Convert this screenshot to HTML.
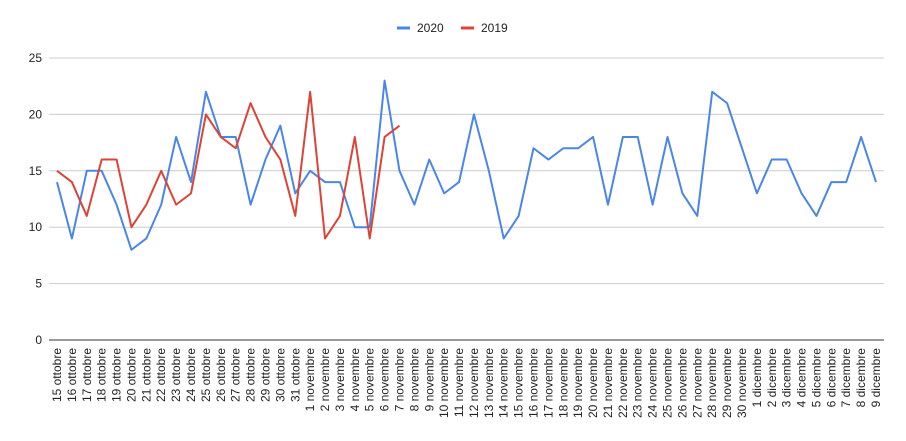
<!DOCTYPE html>
<html><head><meta charset="utf-8"><style>
html,body{margin:0;padding:0;background:#fff;}
svg{display:block;font-family:"Liberation Sans",Arial,sans-serif;}
</style></head><body>
<svg id="c" width="906" height="441" xmlns="http://www.w3.org/2000/svg"></svg>
<script>
const s=document.getElementById('c');
const a=[14,9,15,15,12,8,9,12,18,14,22,18,18,12,16,19,13,15,14,14,10,10,23,15,12,16,13,14,20,15,9,11,17,16,17,17,18,12,18,18,12,18,13,11,22,21,17,13,16,16,13,11,14,14,18,14];
const b=[15,14,11,16,16,10,12,15,12,13,20,18,17,21,18,16,11,22,9,11,18,9,18,19];
const labels=[];
for(let d=15;d<=31;d++)labels.push(d+' ottobre');
for(let d=1;d<=30;d++)labels.push(d+' novembre');
for(let d=1;d<=9;d++)labels.push(d+' dicembre');
const X=i=>57+i*(876-57)/55, Y=v=>340-v*282/25;
let h='';
for(let k=1;k<=5;k++){const y=Y(k*5);h+=`<line x1="49" x2="884" y1="${y}" y2="${y}" stroke="#ccc" stroke-width="1"/>`;}
for(let k=0;k<=5;k++){h+=`<text x="42" y="${Y(k*5)+4}" font-size="12" text-anchor="end" fill="#222">${k*5}</text>`;}
h+=`<line x1="49" x2="884" y1="340" y2="340" stroke="#333" stroke-width="1"/>`;
labels.forEach((l,i)=>{const x=X(i)+4;h+=`<text transform="translate(${x},348) rotate(-90)" font-size="12" text-anchor="end" fill="#222">${l}</text>`;});
h+=`<polyline fill="none" stroke="#4a86e8" stroke-width="2" stroke-linejoin="round" points="${a.map((v,i)=>X(i)+','+Y(v)).join(' ')}"/>`;
h+=`<polyline fill="none" stroke="#db4437" stroke-width="2" stroke-linejoin="round" points="${b.map((v,i)=>X(i)+','+Y(v)).join(' ')}"/>`;
h+=`<line x1="397" x2="410" y1="28" y2="28" stroke="#4a86e8" stroke-width="3"/><text x="417" y="32" font-size="12" fill="#222">2020</text>`;
h+=`<line x1="461" x2="474" y1="28" y2="28" stroke="#db4437" stroke-width="3"/><text x="481" y="32" font-size="12" fill="#222">2019</text>`;
s.innerHTML=h;
</script>
</body></html>
